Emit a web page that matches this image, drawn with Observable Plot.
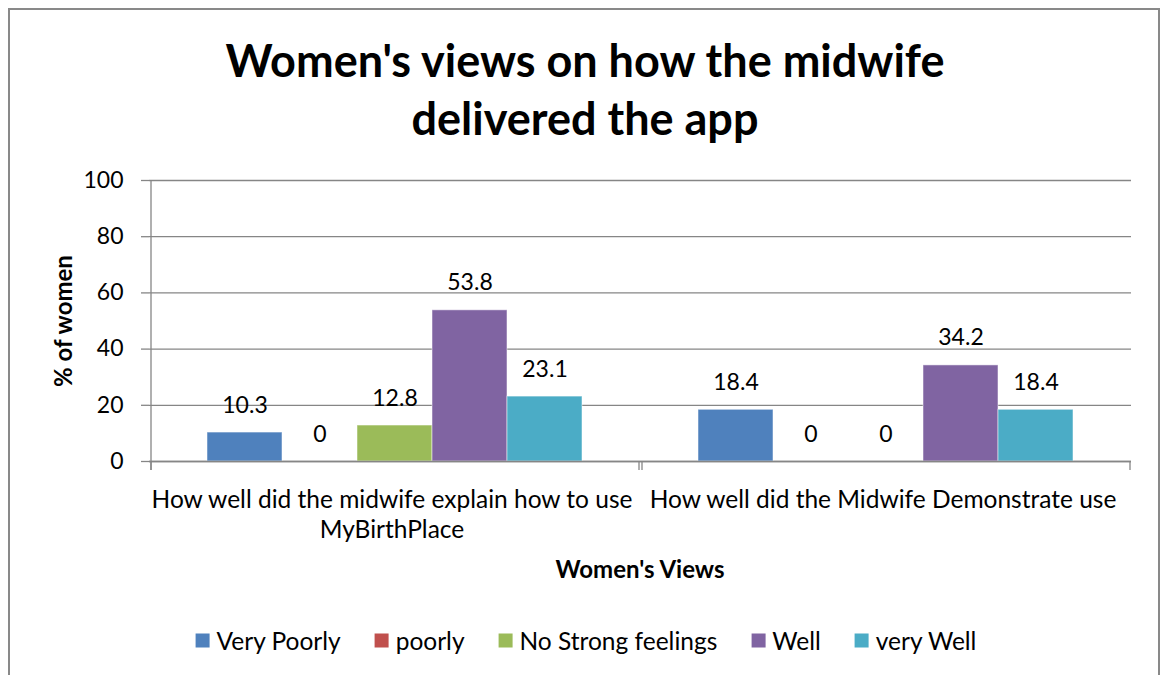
<!DOCTYPE html>
<html>
<head>
<meta charset="utf-8">
<script src="https://cdn.jsdelivr.net/npm/d3@7"></script>
<script src="https://cdn.jsdelivr.net/npm/@observablehq/plot@0.6"></script>
<style>
  html, body { margin: 0; padding: 0; background: #fff; }
  body { width: 1162px; height: 675px; overflow: hidden; position: relative; font-family: Lato, "Open Sans", sans-serif; }
  #frame { position: absolute; left: 8px; top: 8px; width: 1148px; height: 700px; border: 2px solid #898989; }
  #title { position: absolute; left: 0; width: 1170px; top: 31px; text-align: center; font-weight: bold; font-size: 45px; line-height: 58px; color: #000; }
  #chart { position: absolute; left: 0; top: 0; }
  #ylabel { position: absolute; left: 62px; top: 321px; transform: translate(-50%, -50%) rotate(-90deg); font-weight: bold; font-size: 24px; white-space: nowrap; }
  #xlabel { position: absolute; left: 640px; top: 568px; transform: translate(-50%, -50%); font-weight: bold; font-size: 24px; white-space: nowrap; }
  #legend { position: absolute; left: 586px; top: 640px; transform: translate(-50%, -50%); display: flex; gap: 34px; font-size: 24.5px; white-space: nowrap; }
  #legend .item { display: flex; align-items: center; gap: 7px; }
  #legend .sw { width: 14px; height: 14px; display: inline-block; }
</style>
</head>
<body>
<div id="frame"></div>
<div id="title">Women's views on how the midwife<br>delivered the app</div>
<div id="chart"></div>
<div id="ylabel">% of women</div>
<div id="xlabel">Women's Views</div>
<div id="legend"></div>
<script>
const groups = ["explain", "demonstrate"];
const groupLabels = ["How well did the midwife explain how to use\nMyBirthPlace", "How well did the Midwife Demonstrate use"];
const categories = ["Very Poorly", "poorly", "No Strong feelings", "Well", "very Well"];
const colors = ["#4F81BD", "#C0504D", "#9BBB59", "#8064A2", "#4BACC6"];
const explainValues = [10.3, 0, 12.8, 53.8, 23.1];
const demonstrateValues = [18.4, 0, 0, 34.2, 18.4];
const yTicks = [0, 20, 40, 60, 80, 100];

const seriesByGroup = [explainValues, demonstrateValues];
const data = [];
groups.forEach((g, gi) => categories.forEach((c, ci) => data.push({group: g, category: c, value: seriesByGroup[gi][ci]})));

const gridColor = "#868686";
const firstCat = categories[0];
const lastCat = categories[categories.length - 1];
const edgeData = groups.map(g => ({group: g}));

const chart = Plot.plot({
  width: 1162,
  height: 675,
  marginTop: 180,
  marginBottom: 214,
  marginLeft: 148,
  marginRight: 31,
  style: {fontFamily: "Lato, 'Open Sans', sans-serif", background: "transparent", overflow: "visible"},
  fx: {domain: groups, padding: 0, axis: null},
  x: {domain: categories, paddingInner: 0, paddingOuter: 0.74, axis: null},
  y: {domain: [0, 100], axis: null},
  color: {domain: categories, range: colors},
  marks: [
    Plot.ruleY(yTicks, {y: d => d, stroke: gridColor, strokeWidth: 1.3, strokeOpacity: 1}),
    Plot.axisY({ticks: yTicks, tickSize: 8, tickPadding: 18, fontSize: 23, stroke: gridColor, strokeOpacity: 1, strokeWidth: 1.3, color: "#000", label: null, facetAnchor: "left"}),
    Plot.barY(data, {fx: "group", x: "category", y: "value", fill: "category", stroke: "#fff", strokeOpacity: 0.5, strokeWidth: 1}),
    Plot.ruleY([0], {stroke: gridColor, strokeWidth: 1.3}),
    Plot.link([groups[0]], {fx: d => d, x1: () => firstCat, x2: () => firstCat, y1: () => -3, y2: () => 100, dx: -94, stroke: gridColor, strokeWidth: 1.3}),
    Plot.link(edgeData, {fx: "group", x1: () => firstCat, x2: () => firstCat, y1: () => -3, y2: () => 0, dx: -94, stroke: gridColor, strokeWidth: 1.3}),
    Plot.link(edgeData, {fx: "group", x1: () => lastCat, x2: () => lastCat, y1: () => -3, y2: () => 0, dx: 94, stroke: gridColor, strokeWidth: 1.3}),
    Plot.text(data, {fx: "group", x: "category", y: "value", text: d => String(d.value), lineAnchor: "bottom", dy: -20, fontSize: 23, fill: "#000"}),
    Plot.axisFx({anchor: "bottom", tickSize: 0, tickPadding: 25, fontSize: 24.5, lineAnchor: "top", lineHeight: 1.22, dx: -3, tickFormat: g => groupLabels[groups.indexOf(g)], label: null, color: "#000"})
  ]
});
document.getElementById("chart").appendChild(chart);

const legend = document.getElementById("legend");
categories.forEach((c, i) => {
  const item = document.createElement("div");
  item.className = "item";
  const sw = document.createElement("span");
  sw.className = "sw";
  sw.style.background = colors[i];
  const t = document.createElement("span");
  t.textContent = c;
  item.appendChild(sw);
  item.appendChild(t);
  legend.appendChild(item);
});
</script>
</body>
</html>
